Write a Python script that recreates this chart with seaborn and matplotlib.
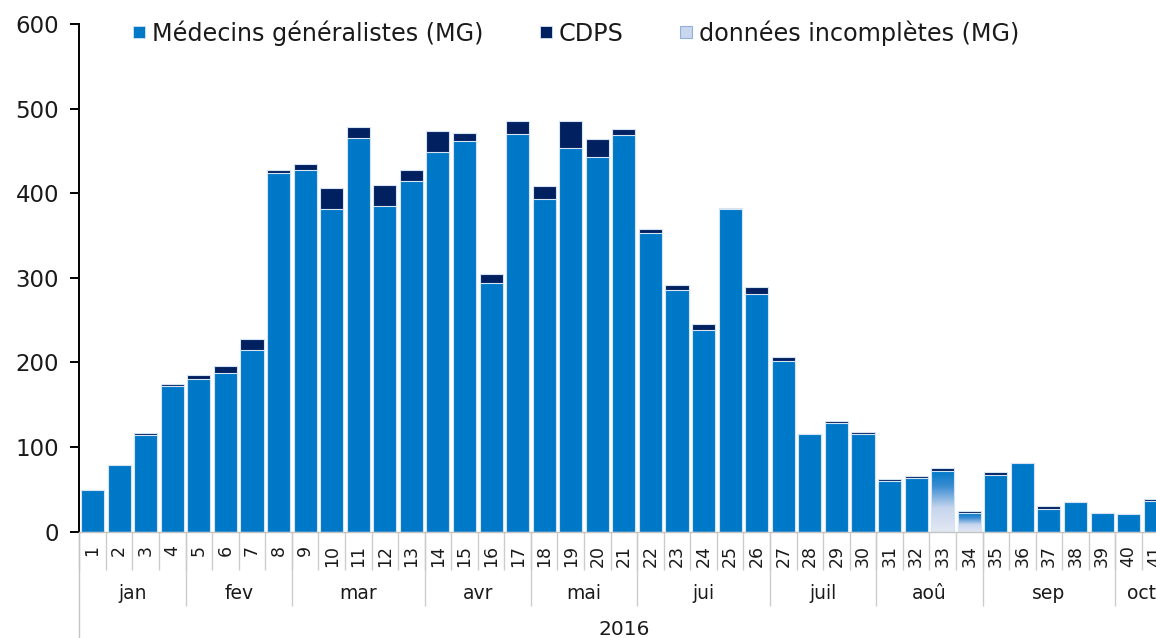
import numpy as np
import pandas as pd
import matplotlib
matplotlib.use("Agg")
import matplotlib.pyplot as plt
from matplotlib.lines import Line2D
from matplotlib.colors import LinearSegmentedColormap
import seaborn as sns

# --- Données ---
weeks = [str(w) for w in range(1, 42)]
mg = [49, 79, 114, 172, 180, 187, 215, 424, 428, 381, 465, 385, 415, 449, 462, 294,
      470, 393, 454, 443, 469, 353, 286, 238, 381, 281, 202, 115, 128, 115, 60, 63,
      0, 0, 67, 81, 27, 35, 22, 21, 36]
incomplete = [0] * 32 + [72, 22] + [0] * 7
cdps = [0, 0, 3, 3, 5, 9, 13, 3, 7, 25, 13, 25, 13, 25, 9, 10, 15, 15, 31, 21, 7,
        5, 6, 7, 2, 8, 4, 0, 3, 3, 2, 3, 3, 2, 4, 0, 3, 0, 0, 0, 3]
months = ["jan", "fev", "mar", "avr", "mai", "jui", "juil", "aoû", "sep", "oct"]
month_weeks = [4, 4, 5, 4, 4, 5, 4, 4, 5, 2]
year_label = "2016"

BLUE = "#0078c8"
NAVY = "#00205f"
EDGE = "#d6e4f2"
TXT = "#1a1a1a"

df = pd.DataFrame({"week": weeks, "mg": mg, "incomplete": incomplete, "cdps": cdps})
df["total"] = df["mg"] + df["incomplete"] + df["cdps"]

sns.set_style("white")
plt.rcParams["font.family"] = ["DejaVu Sans"]

fig = plt.figure(figsize=(11.56, 6.38), dpi=100)
ax = fig.add_axes([79.3 / 1156, 106.3 / 638, 1 - 79.3 / 1156, 507.7 / 638])

# barres empilées : total (CDPS) puis MG par-dessus
sns.barplot(data=df, x="week", y="total", order=weeks, color=NAVY, saturation=1,
            width=0.87, edgecolor=EDGE, linewidth=0.8, ax=ax)
sns.barplot(data=df, x="week", y="mg", order=weeks, color=BLUE, saturation=1,
            width=0.87, edgecolor=EDGE, linewidth=0.8, ax=ax)
sns.barplot(data=df, x="week", y="incomplete", order=weeks, color=BLUE, saturation=1,
            width=0.87, edgecolor=EDGE, linewidth=0.8, ax=ax)

# dégradé pour les données incomplètes
cmap = LinearSegmentedColormap.from_list(
    "incomp", [(0, "#e3e8f4"), (0.4, "#c6d5ee"), (0.75, "#3b8dd2"), (1, BLUE)])
grad = np.linspace(0, 1, 256).reshape(-1, 1)
for p in ax.containers[2]:
    if p.get_height() > 0:
        x0 = p.get_x()
        ax.imshow(grad, extent=(x0, x0 + p.get_width(), 0, p.get_height()),
                  aspect="auto", cmap=cmap, origin="lower", zorder=p.get_zorder() + 0.1)
        p.set_facecolor("none")
        p.set_zorder(p.get_zorder() + 0.2)

ax.set_aspect("auto")
ax.set_xlabel("")
ax.set_ylabel("")

# axe y
ax.set_yticks(range(0, 601, 100))
ax.tick_params(axis="y", length=6.5, width=1.4, color="black", pad=8,
               labelsize=16.5, labelcolor=TXT, left=True)
for side in ["top", "right"]:
    ax.spines[side].set_visible(False)
ax.spines["left"].set_color("black")
ax.spines["left"].set_linewidth(1.4)
ax.spines["bottom"].set_color("#c4c4c4")
ax.spines["bottom"].set_linewidth(1)

# axe x : semaines
ax.set_xticks(range(len(weeks)))
ax.set_xticklabels(weeks, rotation=90, fontsize=12.5, color=TXT)
ax.set_xticks(np.arange(-0.5, len(weeks), 1), minor=True)
ax.tick_params(axis="x", which="major", length=0, pad=9.5)
ax.tick_params(axis="x", which="minor", length=27.4, width=1, color="#cccccc", bottom=True)

# mois
xt = ax.get_xaxis_transform()
bounds = np.cumsum(month_weeks) - 0.5
ax.vlines(bounds[:-1], -0.146, 0, transform=xt, clip_on=False, color="#cccccc", lw=1)
ax.plot([-0.5, -0.5], [-0.21, 0], transform=xt, clip_on=False, color="#c4c4c4", lw=1)
starts = bounds - np.array(month_weeks)
for m, s, e in zip(months, starts, bounds):
    ax.text((s + e) / 2, -0.1227, m, transform=xt, ha="center", va="center",
            fontsize=13.5, color=TXT, clip_on=False)
ax.text((len(weeks) - 1) / 2, -0.192, year_label, transform=xt, ha="center",
        va="center", fontsize=14.5, color=TXT, clip_on=False)

# limites fixées à la fin (set_xticks élargit la vue)
ax.set_xlim(-0.5, 40.03)
ax.set_ylim(0, 600)

# légende
handles = [
    Line2D([], [], marker="s", ls="none", markersize=9, markerfacecolor=BLUE,
           markeredgecolor=EDGE, markeredgewidth=0.6),
    Line2D([], [], marker="s", ls="none", markersize=9, markerfacecolor=NAVY,
           markeredgecolor=EDGE, markeredgewidth=0.6),
    Line2D([], [], marker="s", ls="none", markersize=9, markerfacecolor="#c9d7ee",
           markeredgecolor="#8fb0dd", markeredgewidth=0.8),
]
labels = ["Médecins généralistes (MG)", "CDPS", "données incomplètes (MG)"]
fig.legend(handles, labels, loc="center left", bbox_to_anchor=(132 / 1156, 1 - 33 / 638),
           ncol=3, frameon=False, fontsize=17.2, handlelength=0.6, handletextpad=0.25,
           columnspacing=2.3, borderpad=0, borderaxespad=0, labelcolor=TXT)

fig.savefig("out.png", dpi=100, facecolor="white")
